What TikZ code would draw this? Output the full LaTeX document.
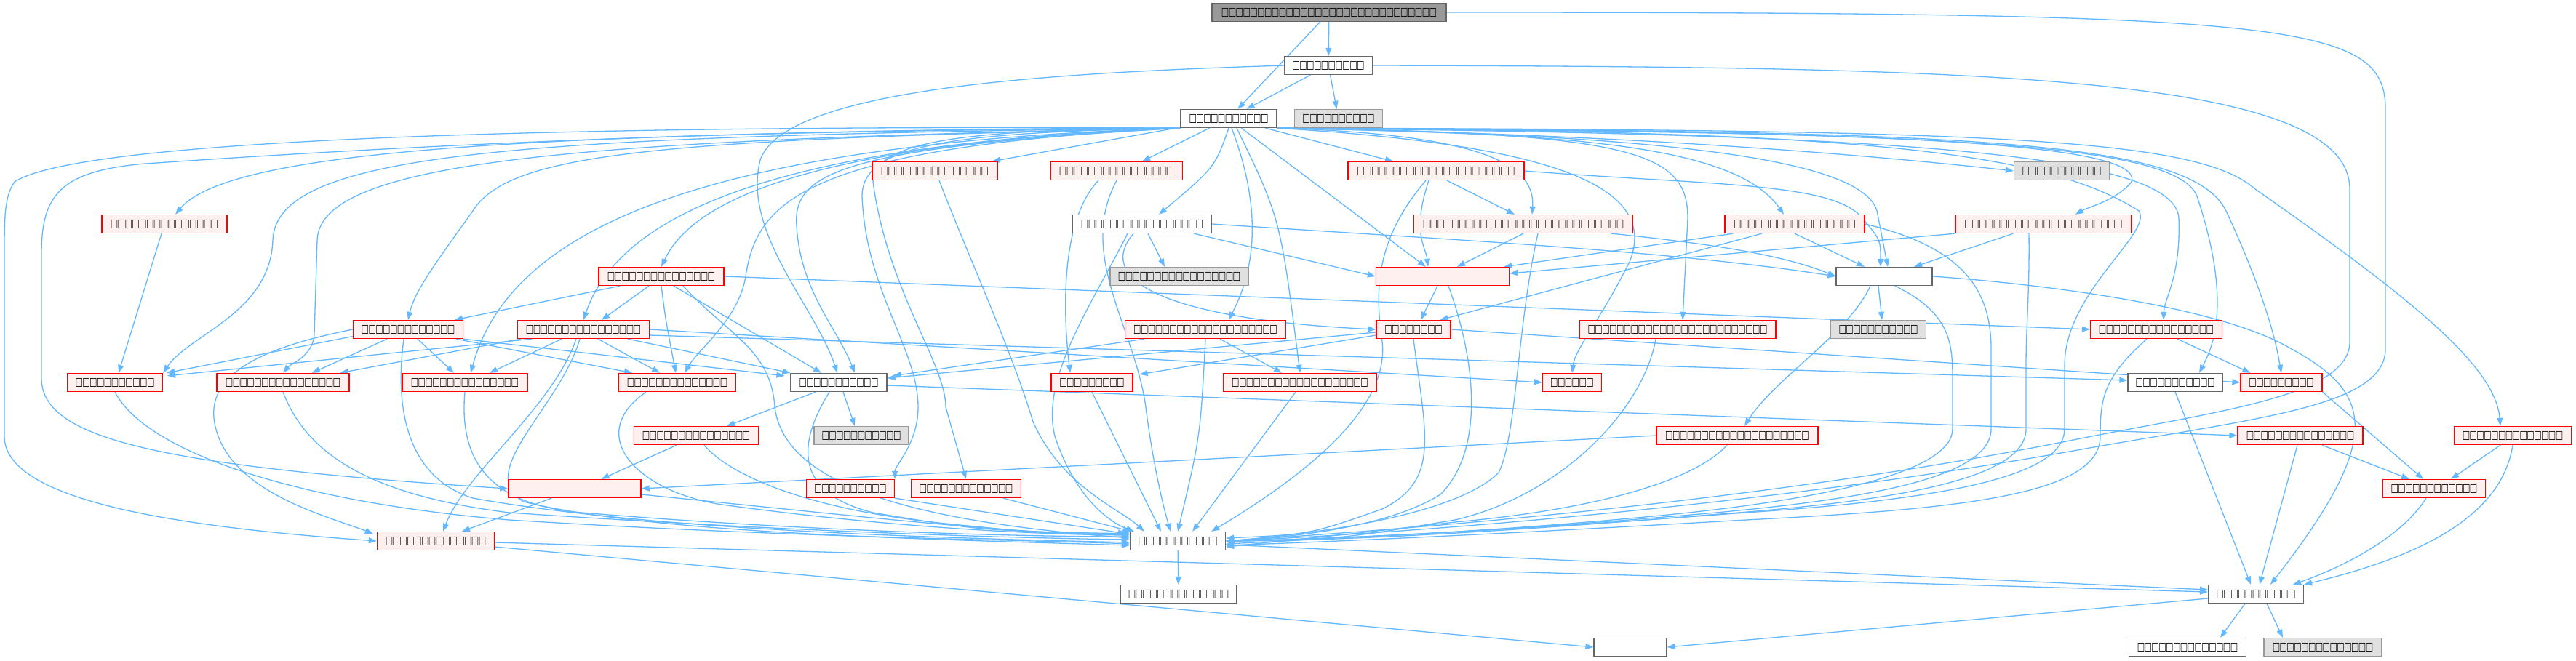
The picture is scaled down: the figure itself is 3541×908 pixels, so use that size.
\documentclass[tikz,border=0pt]{standalone}
\usepackage{fontspec}
\usepackage{graphicx}
\setmainfont{DejaVu Sans}
\usetikzlibrary{arrows.meta,calc}
\pgfdeclarelayer{background}
\pgfsetlayers{background,main}
\definecolor{edgec}{HTML}{63B8FF}
\definecolor{redfill}{HTML}{FFF0F0}
\definecolor{grayfill}{HTML}{E0E0E0}
\definecolor{topfill}{HTML}{999999}
\definecolor{bord}{HTML}{666666}
\definecolor{gbord}{HTML}{999999}
\definecolor{redbord}{HTML}{FF0000}
\newcommand{\tofu}[1]{\foreach \i in {1,...,#1}{\makebox[9.85pt]{\scalebox{0.85}[1.2]{□}}}}
\tikzset{
 nd/.style={draw, line width=1.3pt, minimum height=25pt, inner sep=0pt, font=\fontsize{13}{14}\selectfont},
 rn/.style={nd, draw=redbord, fill=redfill},
 wn/.style={nd, draw=bord, fill=white},
 gn/.style={nd, draw=gbord, fill=grayfill},
 tn/.style={nd, draw=bord, fill=topfill},
 e/.style={draw=edgec, line width=1.3pt, -{Triangle[length=11pt,width=8pt]}},
}
\begin{document}
\begin{tikzpicture}[x=1pt,y=-1pt]
\useasboundingbox (0,0) rectangle (3541,908);
% row 0-2
\node[tn, minimum width=322pt] (top) at (1827,17) {\tofu{30}};
\node[wn, minimum width=121pt] (b) at (1826,90) {\tofu{10}};
\node[wn, minimum width=132pt] (h) at (1689,163) {\tofu{11}};
\node[gn, minimum width=121pt] (g2) at (1840,163) {\tofu{10}};
% row 3
\node[rn, minimum width=172pt] (r3a) at (1285,235) {\tofu{15}};
\node[rn, minimum width=181pt] (r3b) at (1535,235) {\tofu{16}};
\node[rn, minimum width=242pt] (r3c) at (1974,235) {\tofu{22}};
\node[gn, minimum width=131pt] (g3) at (2834,235) {\tofu{11}};
% row 4
\node[rn, minimum width=172pt] (r4a) at (226,308) {\tofu{15}};
\node[wn, minimum width=191pt] (w4) at (1570,308) {\tofu{17}};
\node[rn, minimum width=301pt] (r4b) at (2094,308) {\tofu{28}};
\node[rn, minimum width=192pt] (r4c) at (2467,308) {\tofu{17}};
\node[rn, minimum width=242pt] (r4d) at (2809,308) {\tofu{22}};
% row 5
\node[rn, minimum width=172pt] (r5a) at (909,380) {\tofu{15}};
\node[gn, minimum width=190pt] (g5) at (1621,380) {\tofu{17}};
\node[rn, minimum width=183pt] (r5e) at (1983,380) {};
\node[wn, minimum width=132pt] (w5) at (2590,380) {};
% row 6
\node[rn, minimum width=151pt] (r6a) at (561,453) {\tofu{13}};
\node[rn, minimum width=181pt] (r6b) at (802,453) {\tofu{16}};
\node[rn, minimum width=221pt] (r6c) at (1657,453) {\tofu{20}};
\node[rn, minimum width=102pt] (r6d) at (1943,453) {\tofu{8}};
\node[rn, minimum width=270pt] (r6e) at (2306,453) {\tofu{25}};
\node[gn, minimum width=131pt] (g6) at (2582,453) {\tofu{11}};
\node[rn, minimum width=181pt] (r6f) at (2964,453) {\tofu{16}};
% row 7
\node[rn, minimum width=131pt] (r7a) at (158,526) {\tofu{11}};
\node[rn, minimum width=182pt] (r7b) at (389,526) {\tofu{16}};
\node[rn, minimum width=172pt] (r7c) at (639,526) {\tofu{15}};
\node[rn, minimum width=161pt] (r7d) at (931,526) {\tofu{14}};
\node[wn, minimum width=132pt] (w7) at (1153,526) {\tofu{11}};
\node[rn, minimum width=112pt] (r7e) at (1501,526) {\tofu{9}};
\node[rn, minimum width=211pt] (r7f) at (1787,526) {\tofu{19}};
\node[rn, minimum width=81pt] (r7g) at (2161,526) {\tofu{6}};
\node[wn, minimum width=130pt] (w7b) at (2990,526) {\tofu{11}};
\node[rn, minimum width=112pt] (r7h) at (3136,526) {\tofu{9}};
% row 8
\node[rn, minimum width=171pt] (r8a) at (957,599) {\tofu{15}};
\node[gn, minimum width=130pt] (g8) at (1184,599) {\tofu{11}};
\node[rn, minimum width=222pt] (r8b) at (2388,599) {\tofu{20}};
\node[rn, minimum width=172pt] (r8c) at (3162,599) {\tofu{15}};
\node[rn, minimum width=161pt] (r8d) at (3454,599) {\tofu{14}};
% row 9
\node[rn, minimum width=182pt] (r9e) at (790,672) {};
\node[rn, minimum width=121pt] (r9a) at (1169,672) {\tofu{10}};
\node[rn, minimum width=151pt] (r9b) at (1328,672) {\tofu{13}};
\node[rn, minimum width=141pt] (r9c) at (3346,672) {\tofu{12}};
% row 10-12
\node[rn, minimum width=161pt] (r10) at (599,744) {\tofu{14}};
\node[wn, minimum width=131pt] (S) at (1619,744) {\tofu{11}};
\node[wn, minimum width=160pt] (w11) at (1620,817) {\tofu{14}};
\node[wn, minimum width=131pt] (T) at (3101,817) {\tofu{11}};
\node[wn, minimum width=100pt] (e12) at (2241,890) {};
\node[wn, minimum width=161pt] (w12) at (3007,890) {\tofu{14}};
\node[gn, minimum width=162pt] (g12) at (3193,890) {\tofu{14}};

\begin{pgfonlayer}{background}
\fill[white] (0,0) rectangle (3541,908);
% ---- edges: top, b
\draw[e] (top) -- (b);
\draw[e] (top) -- (h);
\draw[e] (top.east) .. controls (3150,17) and (3279,30) .. (3279,150) -- (3279,480) .. controls (3279,560) and (3100,575) .. (2850,620) .. controls (2400,700) and (1900,735) .. (S.east);
\draw[e] (b) -- (h);
\draw[e] (b) -- (g2);
\draw[e] (b.east) .. controls (2700,92) and (3230,100) .. (3230,260) -- (3230,470) .. controls (3230,545) and (3050,565) .. (2850,605) .. controls (2400,695) and (1900,730) .. (S.east);
\draw[e] (b.west) .. controls (1450,100) and (1080,120) .. (1045,220) .. controls (1020,320) and (1120,420) .. ($(w7.north)+(-2,0)$);

% ---- h to the left
\draw[e] (h.south west) .. controls (900,172) and (120,185) .. (20,250) .. controls (6,270) and (6,300) .. (6,350) -- (6,600) .. controls (6,690) and (250,725) .. (r10.west);
\draw[e] (h.south west) .. controls (900,176) and (350,215) .. (200,225) .. controls (80,235) and (57,270) .. (57,350) -- (57,520) .. controls (57,600) and (200,640) .. (r9e.west);
\draw[e] (h.south west) .. controls (800,182) and (320,200) .. ($(r4a.north)+(15,0)$);
\draw[e] (h.south west) .. controls (700,187) and (380,210) .. (375,330) .. controls (372,430) and (260,460) .. (r7a.north east);
\draw[e] (h.south west) .. controls (800,192) and (440,220) .. (436,330) -- (432,460) .. controls (430,490) and (400,500) .. (r7b.north);
\draw[e] (h.south west) .. controls (900,192) and (700,210) .. (650,290) .. controls (600,360) and (570,400) .. (r6a.north);
\draw[e] (h.south west) .. controls (950,197) and (700,320) .. ($(r7c.north)+(8,0)$);
\draw[e] (h.south west) .. controls (1050,197) and (850,300) .. (r6b.north);
\draw[e] (h.south west) .. controls (1100,197) and (950,280) .. (r5a.north);
\draw[e] (h.south west) .. controls (1100,202) and (1040,280) .. (1025,380) .. controls (1015,440) and (960,480) .. ($(r7d.north)+(10,0)$);
\draw[e] (h.south west) .. controls (1150,202) and (1090,240) .. (1095,310) .. controls (1100,400) and (1150,450) .. ($(w7.north)+(22,0)$);
\draw[e] (h.south west) .. controls (1300,182) and (1185,200) .. (1185,270) .. controls (1190,400) and (1262,480) .. (1262,560) .. controls (1262,610) and (1230,640) .. (r9a.north east);
\draw[e] (h.south west) .. controls (1350,178) and (1200,190) .. (1200,250) .. controls (1220,400) and (1300,500) .. (1300,560) -- (r9b.north);

% ---- h straight down
\draw[e] (h) -- ($(r3a.north east)+(-8,0)$);
\draw[e] (h) -- ($(r3b.north)+(35,0)$);
\draw[e] (h.south) .. controls (1670,230) .. ($(w4.north)+(23,0)$);
\draw[e] (h) -- ($(r3c.north)-(59,0)$);
\draw[e] (h) -- ($(r5e.north)-(23,0)$);
\draw[e] (h.south east) .. controls (2050,185) and (2110,230) .. ($(r4b.north)+(12,0)$);
\draw[e] ($(h.south)+(4,0)$) .. controls (1740,300) and (1720,380) .. ($(r6c.north)+(32,0)$);
\draw[e] ($(h.south)+(11,0)$) .. controls (1760,300) .. (r7f.north);
\draw[e] (h.south east) .. controls (2150,200) and (2280,260) .. (2240,360) .. controls (2200,440) and (2165,480) .. (r7g.north);
\draw[e] (h.south east) .. controls (2250,182) and (2320,210) .. (2320,300) -- ($(r6e.north)+(7,0)$);

% ---- h to the right
\draw[e] (h.south east) .. controls (2100,182) and (2450,200) .. (g3.west);
\draw[e] (h.south east) .. controls (2100,184) and (2380,190) .. ($(r4c.north)-(15,0)$);
\draw[e] (h.south east) .. controls (2500,180) and (2950,190) .. (2930,250) .. controls (2910,275) and (2870,285) .. ($(r4d.north)+(44,0)$);
\draw[e] (h.south east) .. controls (2300,185) and (2560,220) .. (2580,290) -- ($(w5.north)+(5,0)$);
\draw[e] (h.south east) .. controls (2600,184) and (2990,210) .. (2995,300) .. controls (2998,380) and (2975,410) .. ($(r6f.north)+(10,0)$);
\draw[e] (h.south east) .. controls (2600,182) and (2990,190) .. (3020,270) .. controls (3070,420) and (3040,480) .. ($(w7b.north)+(33,0)$);
\draw[e] (h.south east) .. controls (2700,180) and (3010,190) .. (3060,290) .. controls (3120,420) and (3130,480) .. (r7h.north);
\draw[e] (h.south east) .. controls (2750,178) and (3020,190) .. (3100,260) .. controls (3300,400) and (3430,500) .. ($(r8d.north)-(17,0)$);
\draw[e] (h.south east) .. controls (2500,180) and (2800,200) .. (2940,290) .. controls (2960,320) and (2840,400) .. (2838,500) -- (2838,590) .. controls (2838,650) and (2700,685) .. (2400,705) .. controls (2000,735) and (1800,742) .. (S.east);

% ---- row 3
\draw[e] ($(r3a.south)+(6,0)$) .. controls (1330,350) and (1390,480) .. (1420,580) .. controls (1460,670) and (1540,700) .. ($(S.north west)+(20,0)$);
\draw[e] (r3b.south) .. controls (1480,350) and (1560,450) .. (1575,560) .. controls (1585,640) and (1600,700) .. ($(S.north)-(10,0)$);
\draw[e] ($(r3b.south)-(25,0)$) .. controls (1460,300) and (1460,420) .. ($(r7e.north)-(30,0)$);
\draw[e] ($(r3c.south)+(15,0)$) -- ($(r4b.north)-(12,0)$);
\draw[e] ($(r3c.south)-(10,0)$) .. controls (1940,320) and (1960,340) .. ($(r5e.north)-(20,0)$);
\draw[e] ($(r3c.south)-(14,0)$) .. controls (1890,330) and (1890,400) .. (1900,470) .. controls (1910,560) and (1800,650) .. ($(S.north east)-(20,0)$);
\draw[e] (r3c.east) .. controls (2350,255) and (2520,250) .. (2560,300) .. controls (2585,330) .. ($(w5.north)-(5,0)$);

% ---- row 4
\draw[e] ($(r4a.south)-(4,0)$) -- ($(r7a.north)+(5,0)$);
\draw[e] (w4.east) .. controls (2000,330) and (2300,345) .. (w5.west);
\draw[e] ($(w4.south east)+(-25,0)$) -- (r5e.west);
\draw[e] ($(w4.south)+(8,0)$) -- ($(g5.north)-(20,0)$);
\draw[e] ($(w4.south)-(20,0)$) .. controls (1500,420) and (1430,520) .. (1450,600) .. controls (1480,690) and (1530,720) .. ($(S.north west)+(6,0)$);
\draw[e] ($(w4.south)-(12,0)$) .. controls (1500,390) and (1620,440) .. (r6d.west);
\draw[e] (r4b.south) -- ($(r5e.north)+(20,0)$);
\draw[e] ($(r4b.south)+(20,0)$) .. controls (2085,450) and (2085,600) .. (2060,650) .. controls (2000,710) and (1800,735) .. (S.east);
\draw[e] ($(r4b.south east)-(30,0)$) .. controls (2350,335) and (2450,350) .. (w5.west);
\draw[e] ($(r4c.south west)+(12,0)$) -- ($(r5e.north east)-(8,0)$);
\draw[e] ($(r4c.south)-(45,0)$) -- ($(r6d.north east)-(15,0)$);
\draw[e] (r4c.south) -- ($(w5.north)-(27,0)$);
\draw[e] (r4c.east) .. controls (2700,340) and (2737,400) .. (2737,480) -- (2737,590) .. controls (2737,660) and (2550,690) .. (2300,710) .. controls (2000,735) and (1800,742) .. (S.east);
\draw[e] (r4d.south west) -- ($(r5e.east)+(0,-4)$);
\draw[e] ($(r4d.south west)+(80,0)$) -- ($(w5.north)+(41,0)$);
\draw[e] ($(r4d.south)-(20,0)$) .. controls (2790,400) and (2785,450) .. (2785,500) -- (2785,590) .. controls (2785,660) and (2600,690) .. (2350,708) .. controls (2000,737) and (1800,744) .. (S.east);

% ---- row 5
\draw[e] ($(r5a.south west)+(30,0)$) -- ($(r6a.north east)-(12,0)$);
\draw[e] ($(r5a.south)-(17,0)$) -- ($(r6b.north)+(25,0)$);
\draw[e] (r5a.south) .. controls (915,440) .. ($(r7d.north)-(2,0)$);
\draw[e] ($(r5a.south)+(17,0)$) -- ($(w7.north)-(24,0)$);
\draw[e] ($(r5a.south)+(30,0)$) .. controls (1000,460) and (1060,480) .. (1065,560) .. controls (1080,680) and (1300,720) .. ($(S.west)+(0,-4)$);
\draw[e] (r5a.east) -- (r6f.west);
\draw[e] ($(r5e.south)-(7,0)$) -- ($(r6d.north)+(10,0)$);
\draw[e] ($(r5e.south)+(8,0)$) .. controls (2030,500) and (2040,620) .. (1980,680) .. controls (1900,730) and (1750,740) .. (S.east);
\draw[e] ($(w5.south)-(19,0)$) .. controls (2540,460) and (2440,520) .. ($(r8b.north)+(10,0)$);
\draw[e] ($(w5.south)-(8,0)$) -- ($(g6.north)+(5,0)$);
\draw[e] ($(w5.south)+(15,0)$) .. controls (2680,430) and (2684,470) .. (2684,520) -- (2684,590) .. controls (2684,650) and (2500,690) .. (2250,712) .. controls (2000,735) and (1800,742) .. (S.east);
\draw[e] (w5.east) .. controls (2800,390) and (3050,420) .. (3150,480) .. controls (3260,540) and (3280,600) .. ($(T.north)+(20,0)$);

% ---- row 6
\draw[e] ($(r6a.west)+(8,8)$) -- ($(r7a.north east)+(5,0)$);
\draw[e] ($(r6a.south)-(29,0)$) -- ($(r7b.north)+(40,0)$);
\draw[e] ($(r6a.south)+(13,0)$) -- ($(r7c.north)-(15,0)$);
\draw[e] ($(r6a.south east)-(10,0)$) -- ($(r7d.north)-(62,0)$);
\draw[e] (r6a.south east) -- ($(w7.north west)+(-8,4)$);
\draw[e] (r6a.west) .. controls (350,480) and (270,520) .. (300,600) .. controls (330,680) and (450,710) .. ($(r10.north west)+(-5,3)$);
\draw[e] ($(r6a.south)-(6,0)$) .. controls (540,580) and (570,660) .. (650,685) .. controls (900,730) and (1300,740) .. ($(S.west)+(0,2)$);
\draw[e] ($(r6b.south west)+(20,0)$) -- ($(r7a.north east)+(6,4)$);
\draw[e] ($(r6b.south west)+(5,0)$) -- ($(r7b.north east)-(13,0)$);
\draw[e] ($(r6b.south)-(30,0)$) -- ($(r7c.north)+(34,0)$);
\draw[e] ($(r6b.south)+(20,0)$) -- ($(r7d.north)-(24,0)$);
\draw[e] ($(r6b.south east)-(30,0)$) -- ($(w7.north west)+(0,0)$);
\draw[e] ($(r6b.south)-(10,0)$) .. controls (760,560) and (640,650) .. ($(r10.north)+(10,0)$);
\draw[e] ($(r6b.south)-(5,0)$) .. controls (770,560) and (650,650) .. (720,690) .. controls (900,735) and (1300,742) .. ($(S.west)+(0,6)$);
\draw[e] (r6b.east) -- (r7g.west);
\draw[e] ($(r6b.east)+(0,8)$) -- ($(w7b.west)+(0,-3)$);
\draw[e] ($(r6c.south west)+(27,0)$) -- ($(w7.north east)+(8,4)$);
\draw[e] ($(r6c.south)+(20,0)$) -- ($(r7f.north)-(25,0)$);
\draw[e] (r6c.south) .. controls (1650,600) .. (S.north);
\draw[e] ($(r6d.west)+(0,4)$) -- ($(w7.east)+(0,-6)$);
\draw[e] ($(r6d.west)+(0,8)$) -- ($(r7e.north east)+(9,2)$);
\draw[e] (r6d.east) -- (r7h.west);
\draw[e] (r6d.south) .. controls (1960,600) and (1980,660) .. (1900,700) .. controls (1800,735) .. ($(S.east)+(0,-4)$);
\draw[e] ($(r6e.south)-(30,0)$) .. controls (2260,560) and (2150,680) .. (2000,715) .. controls (1850,740) .. ($(S.east)+(0,4)$);
\draw[e] ($(r6f.south)+(29,0)$) -- ($(r7h.north west)+(14,0)$);
\draw[e] ($(r6f.south)-(13,0)$) .. controls (2890,520) and (2887,550) .. (2887,600) .. controls (2887,680) and (2700,700) .. (2400,715) .. controls (2000,738) and (1800,746) .. ($(S.east)+(0,6)$);

% ---- row 7
\draw[e] (r7a.south) .. controls (200,620) and (400,690) .. (700,715) .. controls (1100,740) and (1400,742) .. ($(S.west)+(0,4)$);
\draw[e] (r7b.south) .. controls (420,620) and (500,680) .. (700,705) .. controls (1100,732) and (1400,740) .. ($(S.west)+(0,-2)$);
\draw[e] (r7c.south) .. controls (630,640) and (680,695) .. (800,705) .. controls (1100,730) and (1400,738) .. ($(S.west)+(0,-6)$);
\draw[e] ($(r7d.south)-(43,0)$) .. controls (800,600) and (880,680) .. (1000,695) .. controls (1200,722) and (1400,735) .. ($(S.west)+(0,-8)$);
\draw[e] ($(w7.south)-(32,0)$) -- ($(r8a.north east)-(44,0)$);
\draw[e] ($(w7.south)-(13,0)$) .. controls (1090,620) and (1100,680) .. (1200,705) .. controls (1350,730) .. ($(S.west)+(0,-10)$);
\draw[e] ($(w7.south)+(6,0)$) -- ($(g8.north)-(9,0)$);
\draw[e] ($(w7.east)+(0,4)$) -- (r8c.west);
\draw[e] (r7e.south) -- ($(S.north west)+(43,0)$);
\draw[e] ($(r7f.south)-(6,0)$) -- ($(S.north east)-(46,0)$);
\draw[e] (w7b.south) -- ($(T.north)-(7,0)$);
\draw[e] (r7h.south east) -- ($(r9c.north)-(15,0)$);

% ---- row 8-9
\draw[e] ($(r8a.south)-(27,0)$) -- ($(r9e.north east)-(55,0)$);
\draw[e] ($(r8a.south)+(11,0)$) .. controls (1000,650) and (1100,700) .. (1300,720) .. controls (1450,735) .. ($(S.west)+(0,-11)$);
\draw[e] (r8b.west) -- (r9e.east);
\draw[e] ($(r8b.south)-(14,0)$) .. controls (2330,660) and (2200,700) .. (2000,718) .. controls (1850,735) .. ($(S.east)+(0,8)$);
\draw[e] ($(r8c.south)+(30,0)$) -- ($(r9c.north west)+(37,0)$);
\draw[e] ($(r8c.south)-(4,0)$) -- ($(T.north)+(5,0)$);
\draw[e] ($(r8d.south)-(17,0)$) -- ($(r9c.north)+(23,0)$);
\draw[e] (r8d.south) .. controls (3440,700) and (3350,760) .. (T.north east);
\draw[e] ($(r9c.south)-(11,0)$) .. controls (3300,740) and (3220,780) .. ($(T.north east)-(15,0)$);
\draw[e] ($(r9e.south)-(32,0)$) -- ($(r10.north)+(36,0)$);
\draw[e] ($(r9e.east)+(0,8)$) .. controls (1200,712) and (1400,735) .. ($(S.west)+(0,-9)$);
\draw[e] (r9a.south east) -- ($(S.north west)+(-5,3)$);
\draw[e] ($(r9b.south east)-(25,0)$) -- ($(S.north west)+(2,0)$);

% ---- bottom
\draw[e] ($(r10.east)+(0,2)$) -- ($(T.west)+(0,-3)$);
\draw[e] ($(r10.east)+(0,8)$) -- (e12.west);
\draw[e] (S) -- (w11);
\draw[e] ($(S.east)+(0,5)$) -- ($(T.west)+(0,-6)$);
\draw[e] ($(T.west)+(0,6)$) -- (e12.east);
\draw[e] ($(T.south)-(15,0)$) -- ($(w12.north)+(45,0)$);
\draw[e] ($(T.south)+(15,0)$) -- ($(g12.north)-(55,0)$);
\end{pgfonlayer}
\end{tikzpicture}
\end{document}
